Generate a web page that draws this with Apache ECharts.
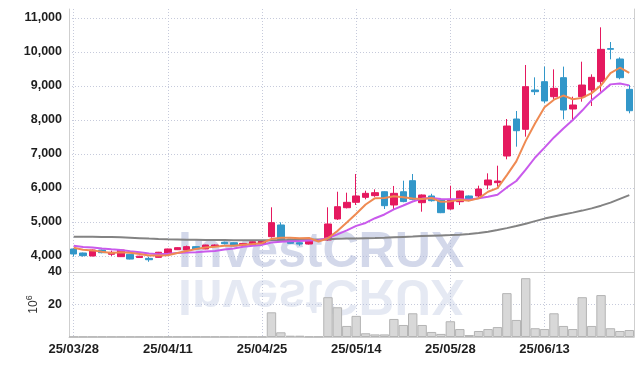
<!DOCTYPE html>
<html><head><meta charset="utf-8">
<script src="https://cdn.jsdelivr.net/npm/echarts@6/dist/echarts.min.js"></script>
<style>html,body{margin:0;padding:0;background:#fff}#c{width:643px;height:366px}</style>
</head><body><div id="c"></div>
<script>
const dates = ['25/03/28','25/03/31','25/04/01','25/04/02','25/04/03','25/04/04','25/04/07','25/04/08','25/04/09','25/04/10',
'25/04/11','25/04/14','25/04/15','25/04/16','25/04/17','25/04/18','25/04/21','25/04/22','25/04/23','25/04/24',
'25/04/25','25/04/28','25/04/29','25/04/30','25/05/02','25/05/07','25/05/08','25/05/09','25/05/12','25/05/13',
'25/05/14','25/05/15','25/05/16','25/05/19','25/05/20','25/05/21','25/05/22','25/05/23','25/05/26','25/05/27',
'25/05/28','25/05/29','25/05/30','25/06/02','25/06/04','25/06/05','25/06/09','25/06/10','25/06/11','25/06/12',
'25/06/13','25/06/16','25/06/17','25/06/18','25/06/19','25/06/20','25/06/23','25/06/24','25/06/25','25/06/26'];
const opens = [4206,4088,4000,4176,4050,3980,4050,3955,3930,3960,
4050,4185,4176,4275,4206,4285,4403,4391,4320,4323,
4373,4568,4912,4500,4390,4353,4460,4470,5088,5420,
5579,5725,5775,5890,5500,5890,6215,5568,5765,5647,
5382,5597,5765,5765,6088,6157,6941,8029,7726,8882,
9127,8685,9245,8324,8685,8882,9127,10100,9794,8902];
const closes = [4059,4010,4176,4097,4108,4176,3910,3995,3890,4110,
4206,4245,4275,4206,4323,4323,4362,4294,4370,4420,
4440,4980,4470,4373,4350,4470,4475,4941,5450,5578,
5765,5843,5862,5480,5843,5600,5667,5794,5626,5274,
5667,5911,5660,5970,6235,6205,7823,7685,8980,8833,
8559,8931,8294,8441,9029,9255,10078,10080,9244,8273];
const lows = [3980,3980,3990,4080,4000,3975,3900,3945,3830,3950,
4040,4175,4170,4200,4200,4280,4340,4285,4300,4310,
4360,4540,4440,4360,4300,4340,4450,4450,5060,5400,
5500,5667,5740,5382,5382,5580,5640,5303,5600,5260,
5360,5500,5610,5730,5960,6039,6844,7215,7510,8735,
8490,8600,8020,8000,8539,8412,8833,9785,9197,8197];
const highs = [4230,4100,4190,4190,4156,4180,4060,4005,3980,4120,
4215,4255,4305,4285,4330,4340,4420,4400,4380,4430,
4450,5432,4990,4510,4400,4480,4490,5432,5890,5862,
6412,5920,5960,5900,6060,6215,6412,5810,5830,5660,
6068,5930,5780,6068,6431,6656,8029,8265,9618,9255,
9570,9490,9570,8686,9715,9343,10726,10294,9844,9029];
const volumes = [0.2,0.2,0.2,0.2,0.2,0.2,0.2,0.2,0.2,0.2,
0.2,0.2,0.2,0.2,0.2,0.2,0.2,0.2,0.2,0.2,
0.2,15.2,2.9,0.8,0.8,0.3,0.3,24.5,18.3,6.8,
13.0,2.3,1.6,1.6,11.1,7.4,14.6,7.4,3.1,1.9,
9.7,4.9,1.2,3.7,4.9,6.1,27.0,10.5,36.2,5.4,
4.9,14.6,6.8,4.9,24.5,6.8,25.8,5.4,3.7,4.3];
const priorCloses = [4400,4350,4380,4320,4360,4310,4270,4300,4280];
const ma60 = [4568,4567,4565,4562,4558,4550,4538,4525,4512,4500,
4492,4486,4480,4476,4472,4470,4468,4466,4465,4464,
4464,4465,4466,4468,4470,4474,4485,4495,4505,4512,
4518,4525,4532,4540,4550,4560,4570,4585,4595,4605,
4615,4628,4645,4675,4715,4765,4820,4880,4950,5025,
5100,5160,5220,5275,5335,5400,5480,5570,5680,5790];

function movingAvg(n){
  const all = priorCloses.concat(closes);
  const off = priorCloses.length;
  return closes.map((_, i) => {
    let s = 0;
    for (let k = 0; k < n; k++) s += all[off + i - k];
    return Math.round(s / n);
  });
}
const ma5 = movingAvg(5);
const ma10 = movingAvg(10);
const candles = dates.map((d, i) => [opens[i], closes[i], lows[i], highs[i]]);

const UP = '#e5195f', DOWN = '#3297c9';
const labelFont = '"Liberation Sans", Arial, sans-serif';
const gridLineColor = '#c6cadb';
const borderColor = '#cfcfcf';

const chart = echarts.init(document.getElementById('c'), null, {renderer: 'canvas'});
chart.setOption({
  animation: false,
  backgroundColor: '#fff',
  grid: [
    {left: 69, right: 9, top: 9, bottom: 94},
    {left: 69, right: 9, top: 272, bottom: 29}
  ],
  xAxis: [
    {type: 'category', gridIndex: 0, data: dates, position: 'top', boundaryGap: true,
     axisLine: {show: true, lineStyle: {color: borderColor}}, axisTick: {show: false}, axisLabel: {show: false},
     splitLine: {show: true, interval: 9, alignWithLabel: true, lineStyle: {color: gridLineColor, type: [1, 2]}}},
    {type: 'category', gridIndex: 1, data: dates, boundaryGap: true,
     axisLine: {show: true, lineStyle: {color: borderColor}}, axisTick: {show: false},
     axisLabel: {show: true, interval: 9, margin: 6, color: '#1e1e1e', fontFamily: labelFont, fontWeight: 'bold', fontSize: 13},
     splitLine: {show: true, interval: 9, alignWithLabel: true, lineStyle: {color: gridLineColor, type: [1, 2]}}}
  ],
  yAxis: [
    {type: 'value', gridIndex: 0, min: 3529, max: 11265, splitNumber: 7, minInterval: 1000, maxInterval: 1000,
     axisLine: {show: true, lineStyle: {color: borderColor}}, axisTick: {show: false},
     axisLabel: {margin: 7, color: '#1e1e1e', fontFamily: labelFont, fontWeight: 'bold', fontSize: 12.5,
       showMinLabel: false, showMaxLabel: false,
       formatter: v => v.toLocaleString('en-US')},
     splitLine: {show: true, showMinLine: false, showMaxLine: false, lineStyle: {color: gridLineColor, type: [1, 2]}}},
    {type: 'value', gridIndex: 1, min: 0, max: 40, interval: 20,
     axisLine: {show: true, lineStyle: {color: borderColor}}, axisTick: {show: false},
     axisLabel: {margin: 7, color: '#1e1e1e', fontFamily: labelFont, fontWeight: 'bold', fontSize: 12.5, showMinLabel: false},
     splitLine: {show: true, showMinLine: false, lineStyle: {color: gridLineColor, type: [1, 2]}},
     name: '{a|10}{b|6}', nameLocation: 'middle', nameGap: 29, nameRotate: 90, nameMoveOverlap: false,
     nameTextStyle: {rich: {
       a: {fontFamily: labelFont, fontSize: 12, color: '#333', lineHeight: 15, verticalAlign: 'bottom'},
       b: {fontFamily: labelFont, fontSize: 9, color: '#333', lineHeight: 15, verticalAlign: 'top'}
     }}},
    {type: 'value', gridIndex: 0, position: 'right', min: 0, max: 1,
     axisLine: {show: true, lineStyle: {color: borderColor}}, axisTick: {show: false}, axisLabel: {show: false}, splitLine: {show: false}},
    {type: 'value', gridIndex: 1, position: 'right', min: 0, max: 1,
     axisLine: {show: true, lineStyle: {color: borderColor}}, axisTick: {show: false}, axisLabel: {show: false}, splitLine: {show: false}}
  ],
  graphic: [
    {type: 'text', x: 178, y: 253, z: 1, silent: true,
     style: {text: 'InvestCRUX', font: 'bold 50px "Liberation Sans", Arial, sans-serif', fill: 'rgba(170,181,214,0.52)', textVerticalAlign: 'middle'}},
    {type: 'text', x: 178, y: 294, scaleY: -1, z: 1, silent: true,
     style: {text: 'InvestCRUX', font: 'bold 50px "Liberation Sans", Arial, sans-serif', fill: 'rgba(170,181,214,0.3)', textVerticalAlign: 'middle'}}
  ],
  series: [
    {type: 'bar', xAxisIndex: 1, yAxisIndex: 1, data: volumes, barCategoryGap: '0%',
     itemStyle: {color: '#d8d8d8', borderColor: '#b4b4b4', borderWidth: 1}},
    {type: 'candlestick', xAxisIndex: 0, yAxisIndex: 0, data: candles, barWidth: 7,
     itemStyle: {color: UP, color0: DOWN, borderColor: UP, borderColor0: DOWN, borderWidth: 1}},
    {type: 'line', xAxisIndex: 0, yAxisIndex: 0, data: ma60, showSymbol: false, lineStyle: {color: '#838383', width: 2}},
    {type: 'line', xAxisIndex: 0, yAxisIndex: 0, data: ma10, showSymbol: false, lineStyle: {color: '#c95aec', width: 2}},
    {type: 'line', xAxisIndex: 0, yAxisIndex: 0, data: ma5, showSymbol: false, lineStyle: {color: '#ef8a52', width: 2}}
  ]
});
</script></body></html>
